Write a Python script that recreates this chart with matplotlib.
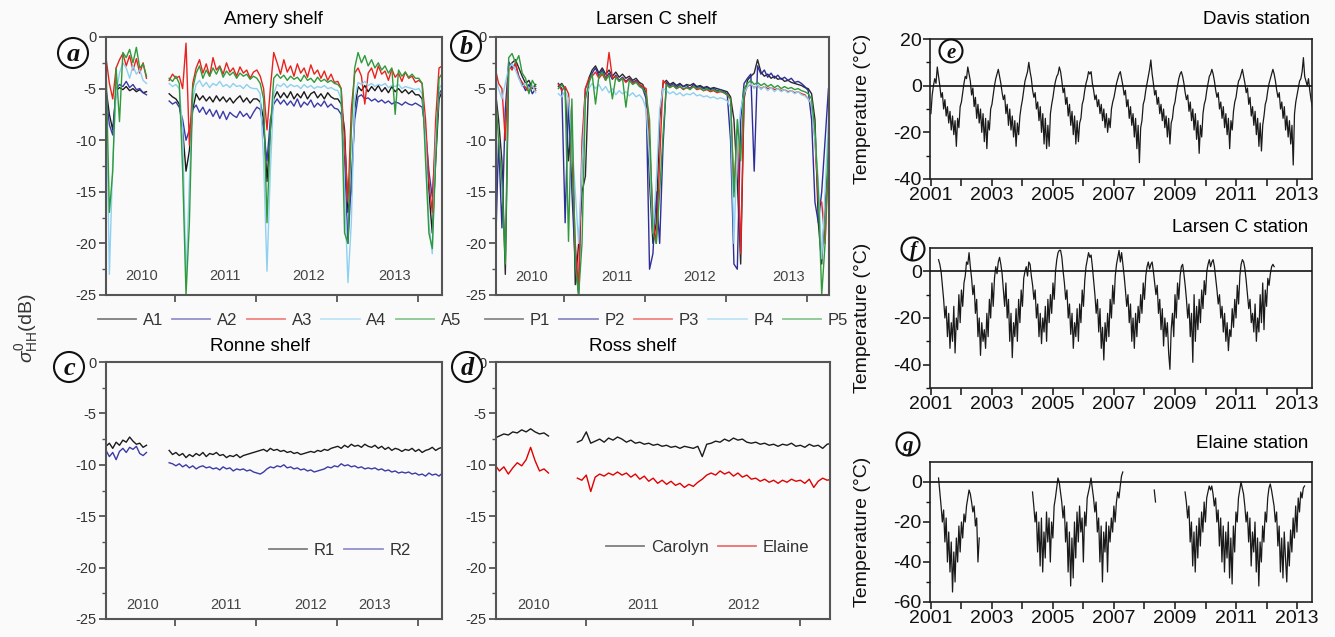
import numpy as np
import matplotlib
matplotlib.use("Agg")
import matplotlib.pyplot as plt
from matplotlib.ticker import FixedLocator
from matplotlib.patches import Ellipse

plt.rcParams['font.family'] = ['Liberation Sans', 'DejaVu Sans']
plt.rcParams['mathtext.fontset'] = 'custom'
plt.rcParams['mathtext.rm'] = 'Liberation Sans'
plt.rcParams['mathtext.it'] = 'Liberation Sans:italic'

# ---------------- sampling (decimal years) ----------------
STEP = 1 / 24
SEG1_START = 2010.15      # first ASCAT segment (2010)
SEG2_START = 2010.93      # second segment (late 2010 onward)
ROSS2_START = 2010.92

# ---------------- (a) Amery shelf ----------------
A1_s1 = [-5.0, -7.5, -9.0, -5.2, -4.9, -5.1, -4.8, -5.2, -5.0, -5.3, -5.1, -5.4, -5.3]
A2_s1 = [-5.5, -8.5, -9.5, -5.0, -4.6, -4.8, -4.3, -4.9, -4.6, -5.1, -5.0, -5.4, -5.6]
A3_s1 = [-2.0, -4.5, -6.0, -3.0, -2.2, -1.6, -2.8, -1.8, -3.2, -2.1, -3.5, -2.5, -4.0]
A4_s1 = [-3.5, -23.0, -12.0, -5.5, -3.5, -2.5, -3.0, -4.0, -2.8, -3.6, -3.2, -4.2, -4.5]
A5_s1 = [-2.5, -17.0, -13.0, -3.0, -8.2, -1.5, -2.0, -1.2, -2.5, -1.0, -3.0, -2.6, -3.8]

A1_s2 = [-5.5, -5.8, -6.0, -6.5, -9.0, -13.0, -11.0, -7.0,
         -5.5, -6.1, -5.7, -6.2, -5.8, -6.3, -5.7, -6.2, -5.8, -6.3, -5.9, -6.4, -6.0, -5.7, -6.3, -5.9, -6.4, -6.0,
         -6.0, -6.3, -8.0, -14.0, -9.0, -6.0,
         -5.3, -5.9, -5.4, -5.9, -5.3, -6.0, -5.5, -5.9, -5.3, -6.0, -5.5, -5.3, -5.9, -5.5, -6.0, -5.4, -5.8, -6.0,
         -6.0, -6.5, -9.0, -17.0, -15.0, -7.0,
         -4.8, -5.2, -4.7, -5.3, -4.8, -5.2, -4.7, -5.3, -4.9, -5.4, -4.8, -5.3, -5.0, -5.4, -5.1, -5.5, -5.2, -5.6,
         -5.6, -6.0, -10.0, -15.0, -19.0, -12.0, -6.0, -5.2]
A2_s2 = [-6.2, -6.5, -6.3, -6.8, -8.0, -10.0, -9.0, -7.0,
         -6.6, -7.3, -6.8, -7.5, -7.0, -7.7, -7.1, -7.9, -7.2, -8.0, -7.3, -7.6, -7.8, -7.2, -7.7, -7.4, -7.9, -7.3,
         -6.8, -7.0, -9.0, -12.0, -8.0, -6.5,
         -6.0, -6.5, -6.1, -6.6, -6.2, -6.7, -6.0, -6.8, -6.3, -6.6, -6.1, -6.8, -6.4, -6.7, -6.2, -6.8, -6.5, -6.9,
         -7.0, -7.5, -12.0, -20.0, -14.0, -8.0,
         -5.8, -5.6, -6.0, -5.9, -6.2, -6.0, -6.3, -6.1, -6.4, -6.2, -6.5, -6.3, -6.4, -6.6, -6.3, -6.5, -6.6, -6.4,
         -6.6, -6.8, -9.0, -13.0, -15.5, -10.0, -5.5, -5.0]
A3_s2 = [-4.2, -3.6, -4.0, -3.8, -5.0, -0.6, -10.5, -4.5,
         -3.0, -2.2, -3.5, -2.6, -3.8, -2.0, -3.2, -2.8, -3.6, -2.5, -3.4, -3.0, -3.8, -2.9, -3.5, -3.2, -4.0, -3.4,
         -3.2, -3.8, -5.0, -9.0, -5.0, -1.5,
         -2.5, -3.6, -2.2, -3.4, -2.8, -3.8, -2.6, -3.5, -3.0, -3.9, -2.7, -3.6, -3.2, -4.0, -3.3, -4.2, -3.6, -4.4,
         -4.3, -5.0, -10.0, -16.0, -7.0, -3.5,
         -3.0, -3.8, -6.5, -3.5, -3.0, -4.0, -2.8, -3.6, -3.3, -4.2, -3.1, -3.9, -3.5, -4.3, -3.4, -4.0, -3.8, -4.4,
         -4.2, -4.5, -8.0, -14.0, -17.0, -8.0, -3.0, -2.8]
A4_s2 = [-4.5, -4.8, -4.6, -5.0, -9.0, -23.5, -14.0, -6.0,
         -4.6, -4.2, -4.8, -4.4, -4.9, -4.5, -4.7, -4.3, -4.8, -4.6, -4.9, -4.5, -4.8, -4.7, -5.0, -4.6, -4.9, -5.0,
         -5.0, -5.5, -12.0, -22.7, -13.0, -5.5,
         -4.6, -4.8, -4.5, -4.9, -4.6, -4.8, -4.7, -5.0, -4.6, -4.9, -4.7, -5.0, -4.8, -4.9, -4.7, -5.0, -4.9, -5.1,
         -5.2, -6.0, -15.0, -23.8, -18.0, -6.0,
         -4.4, -4.6, -4.3, -4.7, -4.5, -4.8, -4.6, -4.7, -4.5, -4.9, -4.7, -4.8, -4.6, -5.0, -4.8, -4.9, -5.0, -5.1,
         -5.0, -5.5, -10.0, -18.0, -21.0, -10.0, -5.0, -4.5]
A5_s2 = [-4.0, -4.3, -3.8, -4.5, -13.0, -25.0, -18.0, -5.0,
         -3.5, -2.8, -4.0, -3.2, -3.8, -3.0, -3.6, -2.9, -3.9, -3.3, -3.7, -3.4, -4.0, -3.5, -3.8, -3.6, -4.1, -3.8,
         -4.0, -4.5, -6.0, -18.0, -9.0, -4.0,
         -3.6, -4.0, -3.7, -4.2, -3.8, -4.1, -3.9, -4.3, -3.7, -4.2, -4.0, -4.4, -3.9, -4.3, -4.1, -4.4, -4.2, -4.5,
         -4.6, -5.0, -19.0, -20.0, -9.0, -3.0,
         -1.5, -2.5, -1.8, -2.8, -2.2, -3.0, -2.5, -3.2, -2.8, -3.5, -3.0, -7.5, -3.2, -3.8, -3.4, -3.9, -3.6, -4.0,
         -4.0, -4.5, -12.0, -19.0, -20.5, -12.0, -4.0, -3.5]

# ---------------- (b) Larsen C shelf ----------------
P1_s1 = [-5.0, -8.0, -12.0, -23.0, -3.0, -2.5, -2.2, -3.0, -3.8, -4.5, -4.2, -5.0, -4.6]
P2_s1 = [-22.0, -10.0, -18.5, -7.0, -2.4, -3.0, -2.6, -3.8, -4.5, -5.2, -4.6, -5.5, -5.0]
P3_s1 = [-3.0, -4.5, -5.0, -10.0, -2.8, -3.2, -2.5, -4.0, -4.4, -4.9, -5.3, -4.7, -5.2]
P4_s1 = [-4.0, -5.0, -6.0, -4.5, -3.0, -2.6, -3.2, -4.0, -4.8, -4.5, -5.0, -4.7, -5.4]
P5_s1 = [-5.0, -10.0, -14.0, -22.0, -2.0, -1.6, -2.5, -1.8, -3.5, -4.0, -5.5, -4.2, -4.8]

P1_s2 = [-4.8, -4.5, -5.0, -12.0, -8.0, -24.0, -20.0, -15.0, -13.5, -4.0,
         -3.2, -2.8, -3.5, -3.0, -3.6, -3.2, -3.8, -3.4, -3.9, -3.6, -4.0, -3.8, -4.2, -4.0, -4.4, -4.6,
         -5.5, -14.0, -20.0, -18.0, -8.0, -4.5,
         -4.2, -4.6, -4.4, -4.7, -4.5, -4.8, -4.6, -4.7, -4.5, -4.8, -4.7, -4.9, -4.8, -5.0, -4.9, -5.0, -5.1, -5.2,
         -5.3, -5.8, -8.0, -14.0, -22.0, -6.0,
         -4.2, -3.8, -3.5, -2.2, -3.4, -3.8, -3.6, -4.0, -3.8, -4.1, -4.0, -4.3, -4.2, -4.4, -4.5, -4.6, -4.7, -4.9,
         -5.0, -5.5, -8.0, -18.0, -22.0, -16.0, -12.0, -4.0]
P2_s2 = [-4.5, -5.0, -18.0, -6.0, -15.0, -22.0, -25.0, -12.0, -5.0, -4.2,
         -3.5, -3.0, -3.8, -3.2, -4.0, -3.5, -4.1, -3.7, -4.2, -3.9, -4.3, -4.0, -4.4, -4.2, -4.6, -5.0,
         -6.0, -22.5, -21.0, -15.0, -20.0, -10.5,
         -4.4, -4.8, -4.5, -4.9, -4.6, -4.8, -4.7, -5.0, -4.6, -4.9, -4.8, -5.0, -4.9, -5.1, -5.0, -5.2, -5.1, -5.3,
         -5.5, -10.0, -22.0, -22.5, -8.0, -4.5,
         -4.0, -3.6, -13.0, -2.8, -3.6, -3.2, -3.9, -3.5, -4.0, -3.7, -4.1, -3.9, -4.2, -4.0, -4.4, -4.3, -4.5, -4.8,
         -5.2, -8.0, -16.0, -18.0, -15.0, -10.0, -5.0, -4.2]
P3_s2 = [-4.6, -5.2, -4.8, -5.5, -10.0, -20.0, -24.5, -10.0, -5.0, -4.0,
         -3.8, -3.4, -4.0, -3.6, -4.2, -1.5, -4.0, -3.8, -4.3, -4.0, -4.4, -4.1, -4.5, -4.3, -4.6, -4.8,
         -5.0, -10.0, -17.5, -20.0, -12.0, -4.2,
         -4.6, -4.9, -4.7, -5.0, -4.8, -5.1, -4.9, -5.0, -4.8, -5.1, -5.0, -5.2, -5.1, -5.3, -5.2, -5.4, -5.3, -5.4,
         -5.6, -6.0, -15.0, -9.0, -21.0, -5.5,
         -4.8, -4.6, -4.9, -4.7, -5.0, -4.8, -5.0, -4.9, -5.1, -5.0, -5.2, -5.1, -5.3, -5.2, -5.4, -5.3, -5.5, -5.6,
         -6.0, -6.5, -10.0, -16.0, -16.0, -20.0, -12.0, -4.5]
P4_s2 = [-5.5, -5.8, -5.2, -6.0, -10.0, -15.0, -20.0, -12.0, -6.0, -5.0,
         -4.5, -5.0, -4.6, -5.2, -4.8, -5.4, -5.0, -5.6, -5.2, -5.5, -5.3, -5.7, -5.4, -5.8, -5.6, -6.0,
         -7.0, -12.0, -19.0, -14.0, -7.0, -5.0,
         -5.2, -5.5, -5.3, -5.6, -5.4, -5.7, -5.5, -5.6, -5.4, -5.7, -5.6, -5.8, -5.7, -5.9, -5.8, -6.0, -5.9, -6.0,
         -6.2, -6.8, -20.0, -10.0, -7.0, -5.5,
         -4.8, -4.5, -5.0, -4.6, -5.1, -4.8, -5.2, -4.9, -5.3, -5.0, -5.3, -5.1, -5.4, -5.2, -5.5, -5.3, -5.6, -5.7,
         -6.0, -6.5, -10.0, -14.0, -21.5, -15.0, -8.0, -5.0]
P5_s2 = [-5.0, -4.6, -5.2, -19.8, -6.0, -22.0, -25.0, -20.0, -6.0, -4.5,
         -3.6, -6.5, -3.8, -3.4, -4.2, -3.7, -6.0, -3.9, -4.3, -4.0, -6.8, -4.2, -4.6, -4.4, -4.8, -5.0,
         -5.5, -8.0, -19.0, -20.0, -15.0, -9.5,
         -4.6, -4.9, -4.7, -5.0, -4.8, -5.0, -4.9, -5.1, -4.8, -5.0, -4.9, -5.2, -5.0, -5.2, -5.1, -5.3, -5.2, -5.4,
         -5.6, -6.0, -15.5, -8.0, -12.0, -5.0,
         -4.5, -4.2, -4.6, -4.4, -4.7, -4.5, -4.8, -4.6, -4.9, -4.7, -5.0, -4.8, -5.0, -4.9, -5.1, -5.0, -5.2, -5.3,
         -5.5, -6.0, -9.0, -15.0, -25.0, -20.0, -10.0, -4.5]

# ---------------- (c) Ronne shelf ----------------
R1_s1 = [-8.2, -7.9, -8.4, -7.8, -8.1, -7.6, -7.8, -7.3, -7.7, -8.0, -7.9, -8.3, -8.1]
R2_s1 = [-8.6, -9.2, -8.8, -9.5, -8.7, -8.4, -8.8, -8.3, -8.5, -8.2, -8.9, -9.1, -8.8]
R1_s2 = [-8.6, -9.0, -8.8, -9.1, -8.9, -9.3, -9.0, -9.2, -8.9, -9.1,
         -8.8, -9.2, -8.9, -9.0, -8.8, -9.1, -9.0, -9.3, -9.1, -9.2,
         -9.0, -9.3, -9.1, -9.0, -8.9, -8.8, -8.7, -8.6, -8.5, -8.7,
         -8.4, -8.6, -8.5, -8.7, -8.6, -8.8, -8.7, -8.9, -8.8, -9.0,
         -8.9, -8.8, -8.7, -8.8, -8.6, -8.7, -8.5, -8.6, -8.4, -8.3,
         -8.2, -8.4, -8.1, -8.3, -8.0, -8.2, -8.1, -8.3, -8.0, -8.2,
         -8.3, -8.1, -8.4, -8.2, -8.5, -8.3, -8.6, -8.4, -8.5, -8.7,
         -8.5, -8.6, -8.4, -8.7, -8.5, -8.8, -8.6, -8.5, -8.3, -8.6, -8.4, -8.3]
R2_s2 = [-9.8, -9.9, -10.1, -9.9, -10.2, -10.0, -10.3, -10.1, -10.4, -10.2,
         -10.1, -10.3, -10.2, -10.4, -10.3, -10.5, -10.2, -10.4, -10.3, -10.6,
         -10.4, -10.5, -10.4, -10.6, -10.5, -10.7, -10.8, -10.9, -10.7, -10.4,
         -10.2, -10.3, -10.1, -10.2, -10.0, -10.3, -10.2, -10.4, -10.3, -10.5,
         -10.4, -10.6, -10.5, -10.7, -10.6, -10.5, -10.4, -10.2, -10.3, -10.1,
         -10.2, -9.9, -10.1, -10.0, -10.2, -10.1, -10.3, -10.2, -10.4, -10.3,
         -10.4, -10.3, -10.5, -10.4, -10.6, -10.5, -10.7, -10.6, -10.8, -10.7,
         -10.8, -10.7, -10.9, -10.8, -11.0, -10.9, -11.1, -10.8, -11.0, -10.9, -11.1, -10.8]

# ---------------- (d) Ross shelf ----------------
CAR_s1 = [-7.4, -7.2, -7.0, -7.1, -6.8, -6.9, -6.6, -6.8, -6.5, -6.8, -7.0, -6.9, -7.2]
ELA_s1 = [-10.0, -10.6, -10.2, -10.9, -10.3, -9.8, -10.1, -9.5, -8.3, -9.6, -10.6, -10.4, -10.8]
CAR_s2 = [-7.8, -7.6, -6.8, -7.9, -7.7, -7.5, -7.8, -7.4, -7.6, -7.3,
          -7.5, -7.8, -7.6, -7.9, -7.8, -8.0, -7.9, -8.1, -8.0, -8.2,
          -8.1, -8.3, -8.2, -8.4, -8.2, -8.3, -8.4, -8.2, -9.2, -8.0,
          -7.9, -7.7, -7.8, -7.5, -7.7, -7.4, -7.6, -7.5, -7.8, -7.9,
          -7.8, -8.0, -7.9, -8.1, -8.0, -8.2, -8.0, -8.1, -7.9, -8.2,
          -8.1, -8.3, -8.0, -8.2, -8.1, -8.4, -8.0, -7.9]
ELA_s2 = [-11.3, -11.5, -11.0, -12.6, -11.2, -10.9, -11.1, -10.8, -11.0, -10.7,
          -11.0, -10.8, -11.2, -10.9, -11.4, -11.1, -11.6, -11.3, -11.8, -11.5,
          -11.9, -11.6, -12.0, -11.8, -12.2, -11.9, -12.1, -11.7, -11.4, -11.0,
          -10.8, -11.0, -10.6, -10.9, -10.7, -11.1, -10.8, -11.2, -11.0, -11.4,
          -11.3, -11.6, -11.4, -11.7, -11.5, -11.8, -11.5, -11.7, -11.4, -11.6,
          -11.5, -11.8, -11.4, -12.2, -11.6, -11.3, -11.5, -11.4]

# ---------------- (e) Davis station temperature, from 2001.0 ----------------
DAVIS_START = 2001.0
DAVIS_T = [
    -12, -4, 0, 3, 1, 8, 4, 0, -5, -3, -10, -6, -13, -9, -16, -11, -19, -13, -21, -15, -26, -14, -18, -9,
    -7, -3, 1, 4, 3, 8, 5, 2, -4, -1, -9, -5, -14, -8, -16, -10, -20, -12, -24, -14, -27, -15, -19, -10,
    -8, -4, 0, 3, 5, 7, 4, 1, -3, -6, -4, -12, -8, -17, -10, -19, -13, -22, -15, -26, -16, -21, -13, -9,
    -6, -2, 2, 4, 6, 10, 6, 3, -2, -5, -3, -10, -7, -15, -9, -20, -12, -25, -14, -27, -17, -26, -12, -8,
    -5, -1, 2, 4, 5, 8, 6, 2, -3, -1, -8, -5, -13, -8, -17, -11, -21, -13, -25, -15, -24, -16, -14, -8,
    -6, -2, 1, 3, 6, 5, 6, 1, -2, -6, -4, -9, -6, -12, -8, -15, -10, -18, -12, -20, -14, -18, -10, -7,
    -5, -2, 1, 3, 5, 6, 3, 0, -4, -2, -9, -6, -14, -9, -17, -12, -22, -14, -27, -17, -33, -18, -15, -8,
    -6, -2, 1, 4, 7, 11, 5, 1, -4, -2, -8, -5, -12, -8, -15, -10, -18, -13, -22, -14, -25, -16, -14, -9,
    -7, -3, 0, 3, 5, 6, 4, 1, -3, -6, -4, -11, -7, -15, -10, -19, -12, -23, -15, -29, -17, -22, -12, -8,
    -6, -2, 1, 4, 5, 7, 5, 2, -2, -5, -3, -10, -7, -14, -9, -18, -12, -21, -14, -27, -15, -19, -11, -7,
    -5, -1, 2, 3, 5, 7, 4, 1, -3, -1, -8, -5, -13, -9, -17, -11, -21, -14, -26, -16, -28, -17, -13, -8,
    -6, -2, 1, 3, 5, 7, 5, 2, -2, -5, -3, -10, -7, -14, -9, -19, -13, -22, -15, -25, -17, -34, -12, -7,
    -4, -1, 2, 3, 6, 12, 4, 2, 0, 3, -2, -6, -9]

# ---------------- (f) Larsen C station temperature, from 2001.25 ----------------
LARSEN_START = 2001.25
LARSEN_T = [
    5, 3, 0, -6, -12, -20, -15, -28, -18, -33, -22, -30, -15, -35, -20, -25, -10, -22, -8, -15, -5, -2, 4, 3,
    8, 2, -3, -10, -6, -18, -12, -28, -20, -36, -22, -30, -25, -33, -18, -28, -12, -20, -5, -15, -3, 2, -1, 4,
    6, 3, -1, -8, -15, -5, -20, -12, -30, -18, -37, -22, -28, -16, -30, -12, -22, -8, -15, -3, 0, 2, -2, 4,
    3, -2, -6, -12, -8, -20, -14, -28, -18, -31, -20, -26, -15, -30, -12, -22, -10, -18, -5, -12, 0, 5, 8, 9,
    9, 6, 0, -5, -12, -8, -20, -14, -27, -18, -33, -22, -28, -16, -30, -14, -22, -8, -15, -4, 2, 5, 8, 6,
    7, 2, -4, -10, -18, -12, -26, -16, -33, -24, -38, -22, -30, -18, -28, -12, -20, -6, -14, -2, 3, 6, 9, 4,
    8, 3, -2, -8, -15, -10, -22, -14, -30, -20, -33, -18, -28, -15, -22, -10, -18, -5, -12, -2, 2, 4, 1, 3,
    4, 0, -5, -10, -6, -18, -12, -25, -16, -32, -20, -28, -22, -35, -42, -25, -18, -28, -10, -20, -5, -12, -2, 2,
    3, -1, -6, -12, -20, -14, -28, -18, -39, -10, -30, -15, -25, -12, -22, -8, -16, -4, -10, 0, 3, 5, 2, 4,
    5, 2, -3, -8, -14, -10, -20, -15, -26, -18, -30, -22, -34, -25, -28, -16, -24, -12, -20, -6, -14, -2, 3, 5,
    4, 1, -4, -10, -16, -12, -22, -18, -26, -14, -30, -20, -26, -10, -22, -5, -25, -8, -15, -3, -6, -1, 2, 3,
    2]

# ---------------- (g) Elaine station temperature (with gaps) ----------------
ELAINE_STARTS = [2001.25, 2004.33, 2008.32, 2009.33]
ELAINE_T1 = [2, -5, -12, -20, -14, -30, -18, -40, -25, -45, -30, -55, -35, -50, -28, -40, -22,
             -35, -20, -28, -16, -20, -12, -8, -4, -6, -10, -15, -12, -22, -18, -40, -28]
ELAINE_T2 = [-5, -12, -20, -15, -35, -20, -42, -18, -45, -25, -38, -15, -30, -18, -40, -20, -28, -12,
             -8, -3, 2, 0, -5, -10, -18, -12, -30, -20, -45, -25, -52, -28, -48, -20, -38, -15, -30,
             -12, -25, -18, -40, -15, -22, -8, -5, -2, 2, -3, -8, -15, -10, -25, -18, -40, -22, -50,
             -25, -35, -20, -45, -22, -30, -18, -25, -12, -20, -10, -5, -8, -2, 3, 5]
ELAINE_T3 = [-4, -10]
ELAINE_T4 = [-5, -10, -18, -12, -30, -20, -42, -25, -45, -22, -38, -18, -32, -15, -25, -10, -20, -8,
             -5, -2, -4, -2, -6, -12, -8, -20, -14, -32, -18, -40, -22, -45, -25, -38, -20, -48, -28,
             -51, -22, -35, -15, -20, -8, -4, 0, -3, -6, -12, -20, -15, -30, -18, -42, -25, -35, -20,
             -45, -28, -52, -30, -40, -22, -30, -15, -20, -8, -3, -1, -4, -8, -12, -20, -15, -32, -22,
             -45, -28, -48, -25, -38, -50, -30, -42, -24, -35, -18, -28, -12, -25, -8, -15, -5, -8, -3, -2]

# ============================================================
W, H = 1335, 637
BG = '#fafafa'
fig = plt.figure(figsize=(W / 100, H / 100), dpi=100, facecolor=BG)


def fax(left, top, right, bottom):
    return fig.add_axes([left / W, 1 - bottom / H, (right - left) / W, (bottom - top) / H], facecolor=BG)


def plot_series(ax, starts, segs, color, label, lw=1.0, alpha=1.0, zorder=2):
    first = None
    for st, v in zip(starts, segs):
        v = np.asarray(v, dtype=float)
        t = st + np.arange(len(v)) * STEP
        ln, = ax.plot(t, v, color=color, lw=lw, alpha=alpha, zorder=zorder)
        if first is None:
            first = ln
            ln.set_label(label)
    return first


def style_left(ax, xlim, xticks):
    ax.set_xlim(*xlim)
    ax.set_ylim(-25, 0)
    ax.set_yticks([0, -5, -10, -15, -20, -25])
    ax.set_yticklabels(['0', '-5', '-10', '-15', '-20', '-25'])
    ax.yaxis.set_minor_locator(FixedLocator([-2.5, -7.5, -12.5, -17.5, -22.5]))
    ax.set_xticks(xticks)
    ax.set_xticklabels([])
    ax.tick_params(which='major', direction='out', length=5, width=1.3, colors='#555',
                   labelcolor='#333', labelsize=10.5, pad=2)
    ax.tick_params(which='minor', direction='out', length=3, width=1.0, colors='#555')
    for s in ax.spines.values():
        s.set_color('#555')
        s.set_linewidth(1.5)


def style_right(ax, ylim, yticks, yminor):
    ax.set_xlim(2000.97, 2013.49)
    ax.set_ylim(*ylim)
    yrs = list(range(2001, 2014))
    ax.set_xticks(yrs)
    ax.set_xticklabels([str(y) if y % 2 == 1 else '' for y in yrs])
    ax.set_yticks(yticks)
    ax.set_yticklabels([str(v) for v in yticks])
    ax.yaxis.set_minor_locator(FixedLocator(yminor))
    ax.tick_params(which='major', direction='out', length=5, width=1.1, colors='#111',
                   labelsize=14, pad=1)
    ax.tick_params(which='minor', direction='out', length=3, width=1.0, colors='#111')
    for s in ax.spines.values():
        s.set_color('#222')
        s.set_linewidth(1.2)
    ax.axhline(0, color='#111', lw=1.2, zorder=3)
    ax.set_ylabel('Temperature (°C)', fontsize=14, color='#111')
    ax.yaxis.set_label_coords(-0.155, 0.5)


def soften_legend(leg):
    for ln in leg.get_lines():
        ln.set_alpha(0.55)
        ln.set_linewidth(1.3)


def circ_label(letter, cx, cy, d, fs):
    fig.add_artist(Ellipse((cx / W, 1 - cy / H), d / W, d / H, transform=fig.transFigure,
                           facecolor='white', edgecolor='#111', lw=1.5, zorder=20))
    fig.text(cx / W, 1 - cy / H - 0.003, letter, ha='center', va='center', fontsize=fs,
             fontweight='bold', fontstyle='italic', family='Liberation Serif', color='#111', zorder=21)


COL_BLACK = '#1a1a1a'
COL_BLUE = '#3b3ba8'
COL_RED = '#e8231f'
COL_LBLUE = '#8fd0f0'
COL_GREEN = '#2f9a3a'

# ---------------- (a) ----------------
axa = fax(106, 37, 442, 295)
S = [SEG1_START, SEG2_START]
ha = []
ha.append(plot_series(axa, S, [A1_s1, A1_s2], COL_BLACK, 'A1'))
ha.append(plot_series(axa, S, [A2_s1, A2_s2], COL_BLUE, 'A2'))
ha.append(plot_series(axa, S, [A3_s1, A3_s2], COL_RED, 'A3'))
ha.append(plot_series(axa, S, [A4_s1, A4_s2], COL_LBLUE, 'A4'))
ha.append(plot_series(axa, S, [A5_s1, A5_s2], COL_GREEN, 'A5'))
style_left(axa, (2010.15, 2014.3), [2011, 2012, 2013, 2014])
axa.text(0.497, 1.066, 'Amery shelf', transform=axa.transAxes, ha='center', va='center', fontsize=13.5)
for lab, x in zip(['2010', '2011', '2012', '2013'], [2010.59, 2011.62, 2012.65, 2013.71]):
    axa.text(x, -23.2, lab, ha='center', va='center', fontsize=10.5, color='#444')
soften_legend(axa.legend(handles=ha, loc='center', bbox_to_anchor=(0.516, -0.097), ncol=5, frameon=False,
                         fontsize=12, handlelength=2.3, handletextpad=0.4, columnspacing=0.55,
                         labelcolor='#333'))

# ---------------- (b) ----------------
axb = fax(496, 37, 829, 295)
hb = []
hb.append(plot_series(axb, S, [P1_s1, P1_s2], '#2a2a2a', 'P1'))
hb.append(plot_series(axb, S, [P2_s1, P2_s2], '#2e2e9a', 'P2'))
hb.append(plot_series(axb, S, [P3_s1, P3_s2], COL_RED, 'P3'))
hb.append(plot_series(axb, S, [P4_s1, P4_s2], COL_LBLUE, 'P4'))
hb.append(plot_series(axb, S, [P5_s1, P5_s2], COL_GREEN, 'P5'))
style_left(axb, (2010.16, 2014.27), [2011, 2012, 2013, 2014])
axb.text(0.483, 1.066, 'Larsen C shelf', transform=axb.transAxes, ha='center', va='center', fontsize=13.5)
for lab, x in zip(['2010', '2011', '2012', '2013'], [2010.60, 2011.65, 2012.67, 2013.77]):
    axb.text(x, -23.3, lab, ha='center', va='center', fontsize=10.5, color='#444')
soften_legend(axb.legend(handles=hb, loc='center', bbox_to_anchor=(0.512, -0.097), ncol=5, frameon=False,
                         fontsize=12, handlelength=2.3, handletextpad=0.4, columnspacing=0.55,
                         labelcolor='#333'))

# ---------------- (c) ----------------
axc = fax(106, 362, 442, 619)
hc = []
hc.append(plot_series(axc, S, [R1_s1, R1_s2], COL_BLACK, 'R1'))
hc.append(plot_series(axc, S, [R2_s1, R2_s2], COL_BLUE, 'R2'))
style_left(axc, (2010.15, 2014.3), [2011, 2012, 2013, 2014])
axc.text(0.458, 1.062, 'Ronne shelf', transform=axc.transAxes, ha='center', va='center', fontsize=13.5)
for lab, x in zip(['2010', '2011', '2012', '2013'], [2010.60, 2011.63, 2012.68, 2013.47]):
    axc.text(x, -23.6, lab, ha='center', va='center', fontsize=10.5, color='#444')
soften_legend(axc.legend(handles=hc, loc='center', bbox_to_anchor=(0.696, 0.268), ncol=2, frameon=False,
                         fontsize=12, handlelength=2.3, handletextpad=0.4, columnspacing=0.55,
                         labelcolor='#333'))

# ---------------- (d) ----------------
axd = fax(496, 362, 830, 619)
hd = []
hd.append(plot_series(axd, [SEG1_START, ROSS2_START], [CAR_s1, CAR_s2], COL_BLACK, 'Carolyn'))
hd.append(plot_series(axd, [SEG1_START, ROSS2_START], [ELA_s1, ELA_s2], '#e00000', 'Elaine'))
style_left(axd, (2010.16, 2013.28), [2011, 2012, 2013])
axd.text(0.41, 1.062, 'Ross shelf', transform=axd.transAxes, ha='center', va='center', fontsize=13.5)
for lab, x in zip(['2010', '2011', '2012'], [2010.51, 2011.53, 2012.47]):
    axd.text(x, -23.6, lab, ha='center', va='center', fontsize=10.5, color='#444')
soften_legend(axd.legend(handles=hd, loc='center', bbox_to_anchor=(0.633, 0.28), ncol=2, frameon=False,
                         fontsize=12, handlelength=2.3, handletextpad=0.4, columnspacing=0.55,
                         labelcolor='#333'))

# ---------------- (e) ----------------
axe = fax(930, 39, 1312, 179)
plot_series(axe, [DAVIS_START], [DAVIS_T], '#1a1a1a', 'Davis', lw=0.9)
style_right(axe, (-40, 20), [20, 0, -20, -40], [10, -10, -30])

# ---------------- (f) ----------------
axf = fax(930, 248, 1312, 388)
plot_series(axf, [LARSEN_START], [LARSEN_T], '#1a1a1a', 'Larsen C', lw=0.9)
style_right(axf, (-50, 10), [0, -20, -40], [-10, -30, -50])

# ---------------- (g) ----------------
axg = fax(930, 462, 1312, 602)
plot_series(axg, ELAINE_STARTS, [ELAINE_T1, ELAINE_T2, ELAINE_T3, ELAINE_T4], '#1a1a1a', 'Elaine', lw=0.9)
style_right(axg, (-60, 10), [0, -20, -40, -60], [-10, -30, -50])

fig.text(1310 / W, 1 - 20 / H, 'Davis station', ha='right', va='center', fontsize=13.5)
fig.text(1308 / W, 1 - 228 / H, 'Larsen C station', ha='right', va='center', fontsize=13.5)
fig.text(1308 / W, 1 - 443 / H, 'Elaine station', ha='right', va='center', fontsize=13.5)

# shared y label of left block
fig.text(27 / W, 1 - 328 / H, r'$\sigma^{0}_{\mathrm{HH}}$(dB)', rotation=90, ha='center', va='center',
         fontsize=14, color='#333')

# circled panel letters
circ_label('a', 73, 53, 30, 19)
circ_label('b', 466, 46, 30, 19)
circ_label('c', 69, 367, 30, 19)
circ_label('d', 467, 367, 30, 19)
circ_label('e', 951, 51, 23, 15)
circ_label('f', 913, 249, 23, 15)
circ_label('g', 908, 444, 23, 15)

fig.savefig('out.png', dpi=100, facecolor=BG)
